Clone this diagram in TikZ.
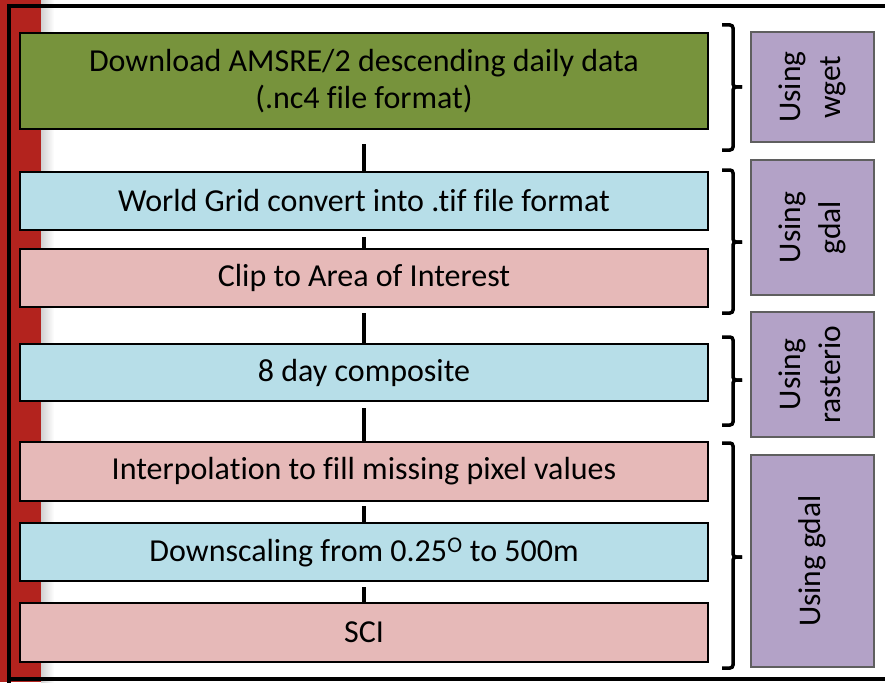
\documentclass[tikz,border=0pt]{standalone}
\usepackage{fontspec}
\setmainfont{Carlito}[Ligatures=NoCommon]
\definecolor{redbar}{RGB}{179,35,30}
\definecolor{greenbox}{RGB}{119,147,60}
\definecolor{bluebox}{RGB}{183,222,232}
\definecolor{pinkbox}{RGB}{230,185,184}
\definecolor{purplebox}{RGB}{179,162,199}
\definecolor{purpleedge}{RGB}{95,95,95}
\tikzset{
  mainbox/.style={draw=black, line width=2pt, minimum width=688pt, inner sep=0pt,
    font=\fontsize{32}{37}\selectfont, align=center, text=black},
  toolbox/.style={draw=purpleedge, line width=1.3pt, fill=purplebox, minimum width=123pt,
    inner sep=0pt, font=\fontsize{31.5}{40}\selectfont, align=center},
  conn/.style={line width=4pt, black},
  bracket/.style={line width=3.5pt, black, rounded corners=3pt}
}
\begin{document}
\begin{tikzpicture}[x=1pt,y=-1pt]
\useasboundingbox (0,0) rectangle (885,682);
% red bar and its soft edge
\fill[redbar] (0,0) rectangle (41,682);
\shade[left color=black!18, right color=white] (41,0) rectangle (54,682);
% frame
\draw[line width=4pt, black] (9,700) -- (9,6) -- (900,6);
\draw[line width=4pt, black] (9,679) -- (900,679);
% main steps
\node[mainbox, fill=greenbox, minimum height=96pt] (b1) at (364,81)
  {Download AMSRE/2 descending daily data\\(.nc4 file format)};
\node[mainbox, fill=bluebox, minimum height=58pt] (b2) at (364,201)
  {World Grid convert into .tif file format};
\node[mainbox, fill=pinkbox, minimum height=58pt] (b3) at (364,278)
  {Clip to Area of Interest};
\node[mainbox, fill=bluebox, minimum height=57pt] (b4) at (364,372.5)
  {8 day composite};
\node[mainbox, fill=pinkbox, minimum height=59pt] (b5) at (364,471.5)
  {Interpolation to fill missing pixel values};
\node[mainbox, fill=bluebox, minimum height=58pt] (b6) at (364,552)
  {Downscaling from 0.25\textsuperscript{O} to 500m};
\node[mainbox, fill=pinkbox, minimum height=59pt] (b7) at (364,632.5)
  {SCI};
% connectors
\draw[conn] ([yshift=-14pt]b1.south) -- (b2.north);
\draw[conn] ([yshift=-6pt]b2.south) -- (b3.north);
\draw[conn] ([yshift=-5pt]b3.south) -- (b4.north);
\draw[conn] ([yshift=-6pt]b4.south) -- (b5.north);
\draw[conn] ([yshift=-4pt]b5.south) -- (b6.north);
\draw[conn] ([yshift=-5pt]b6.south) -- (b7.north);
% tool boxes
\node[toolbox, minimum height=110pt] (p1) at (812.5,87) {\rotatebox{90}{\begin{tabular}{@{}c@{}}Using\\wget\end{tabular}}};
\node[toolbox, minimum height=135pt] (p2) at (812.5,227.5) {\rotatebox{90}{\begin{tabular}{@{}c@{}}Using\\gdal\end{tabular}}};
\node[toolbox, minimum height=125pt] (p3) at (812.5,374.5) {\rotatebox{90}{\begin{tabular}{@{}c@{}}Using\\rasterio\end{tabular}}};
\node[toolbox, minimum height=212pt] (p4) at (812.5,561) {\rotatebox{90}{Using gdal}};
% brackets
\draw[bracket] (722,25) -- (733,25) -- (733,87) -- (742,87);
\draw[bracket] (742,87) -- (733,87) -- (733,150) -- (722,150);
\draw[bracket] (722,170) -- (733,170) -- (733,242) -- (742,242);
\draw[bracket] (742,242) -- (733,242) -- (733,313) -- (722,313);
\draw[bracket] (722,337) -- (733,337) -- (733,380) -- (742,380);
\draw[bracket] (742,380) -- (733,380) -- (733,425) -- (722,425);
\draw[bracket] (722,443) -- (733,443) -- (733,557) -- (742,557);
\draw[bracket] (742,557) -- (733,557) -- (733,668) -- (722,668);
\end{tikzpicture}
\end{document}
